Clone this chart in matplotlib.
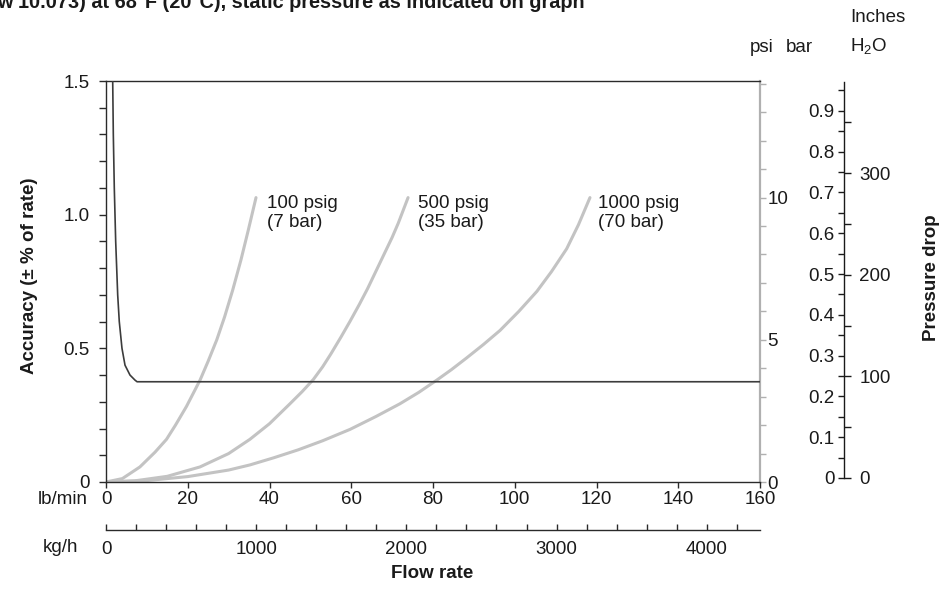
import matplotlib
matplotlib.use("Agg")
import matplotlib.pyplot as plt
from matplotlib.ticker import MultipleLocator, FixedLocator

plt.rcParams["font.family"] = ["Liberation Sans", "DejaVu Sans"]
plt.rcParams["mathtext.fontset"] = "custom"
plt.rcParams["mathtext.rm"] = "Liberation Sans"
plt.rcParams["mathtext.it"] = "Liberation Sans:italic"
plt.rcParams["mathtext.bf"] = "Liberation Sans:bold"

# ---- data ----
# accuracy curve (lb/min, % of rate)
acc_flow = [1.64, 1.79, 2.03, 2.37, 2.86, 3.25, 3.91, 4.65, 5.87, 7.1, 7.6, 160]
acc_value = [1.5, 1.3, 1.1, 0.9, 0.7, 0.6, 0.5, 0.437, 0.40, 0.381, 0.375, 0.375]

# pressure drop curves (lb/min, psi)
dp100_flow = [0, 4, 8.3, 12, 14.8, 17, 19.7, 23.0, 25, 27.1, 29, 31, 33, 34.8, 36.7]
dp100_psi = [0, 0.12, 0.53, 1.05, 1.5, 2.0, 2.66, 3.58, 4.25, 5.0, 5.8, 6.75, 7.8, 8.85, 10.0]
dp500_flow = [0, 7, 15, 23, 30, 35.2, 40, 45, 48, 50.7, 53, 55, 57.5, 59.7, 62, 64,
              66, 68, 70, 71.5, 73.9]
dp500_psi = [0, 0.04, 0.2, 0.53, 1.0, 1.5, 2.05, 2.75, 3.18, 3.6, 4.05, 4.5, 5.1, 5.65,
             6.25, 6.8, 7.4, 8.0, 8.6, 9.1, 10.0]
dp1000_flow = [0, 10, 20, 30, 35.2, 41, 47, 53, 59.7, 66, 71.9, 76.5, 80.9, 84.5, 88.2,
               92.3, 96.4, 101, 105.4, 109, 112.7, 115.6, 118.4]
dp1000_psi = [0, 0.05, 0.19, 0.42, 0.6, 0.85, 1.13, 1.45, 1.85, 2.3, 2.75, 3.15, 3.58,
              3.95, 4.36, 4.83, 5.33, 6.0, 6.7, 7.4, 8.2, 9.05, 10.0]
curve_labels = ["100 psig\n(7 bar)", "500 psig\n(35 bar)", "1000 psig\n(70 bar)"]
label_flow = [39.3, 76.4, 120.4]

flow_ticks = [0, 20, 40, 60, 80, 100, 120, 140, 160]
acc_ticks = [0, 0.5, 1.0, 1.5]
acc_tick_labels = ["0", "0.5", "1.0", "1.5"]
psi_ticks = [0, 5, 10]
bar_ticks = [0, 0.1, 0.2, 0.3, 0.4, 0.5, 0.6, 0.7, 0.8, 0.9]
bar_tick_labels = ["0", "0.1", "0.2", "0.3", "0.4", "0.5", "0.6", "0.7", "0.8", "0.9"]
inh2o_ticks = [0, 100, 200, 300]
kgh_ticks = [0, 1000, 2000, 3000, 4000]

KGH_PER_LBMIN = 27.2155
INH2O_PER_BAR = 401.463

# ---- layout helpers (pixel -> figure fraction) ----
W, H = 941, 591
def fx(px):
    return px / W
def fy(py):
    return 1 - py / H

FS = 13.5
TXT = "#1a1a1a"
fig = plt.figure(figsize=(W / 100, H / 100), dpi=100)

# main axes: accuracy vs flow (lb/min)
ax = fig.add_axes([fx(106), fy(482), fx(760) - fx(106), fy(81) - fy(482)])
ax.set_xlim(0, 160)
ax.set_ylim(0, 1.5)

# psi scale on the right spine (twin), holds the pressure drop curves
axpsi = ax.twinx()
axpsi.set_ylim(0, 14.1)
for fl, ps in [(dp100_flow, dp100_psi), (dp500_flow, dp500_psi), (dp1000_flow, dp1000_psi)]:
    axpsi.plot(fl, ps, color="#c3c3c3", lw=2.2, solid_capstyle="round",
               solid_joinstyle="round", zorder=2)
for sp in ["left", "top", "bottom"]:
    axpsi.spines[sp].set_visible(False)
axpsi.spines["right"].set_color("#b0b0b0")
axpsi.spines["right"].set_linewidth(1.6)
axpsi.yaxis.set_major_locator(FixedLocator(psi_ticks))
axpsi.yaxis.set_minor_locator(MultipleLocator(1))
axpsi.tick_params(axis="y", which="both", direction="out", length=4, width=1.0,
                  color="#b0b0b0", labelsize=FS, labelcolor=TXT, pad=1.5)

# accuracy curve above the pressure curves
ax.set_zorder(axpsi.get_zorder() + 1)
ax.patch.set_visible(False)
ax.plot(acc_flow, acc_value, color="#3c3c3c", lw=1.2, zorder=3)

ax.spines["right"].set_visible(False)
for sp in ["left", "top", "bottom"]:
    ax.spines[sp].set_color("#2a2a2a")
    ax.spines[sp].set_linewidth(1.0)
ax.set_xticks(flow_ticks)
ax.set_yticks(acc_ticks)
ax.set_yticklabels(acc_tick_labels)
ax.yaxis.set_minor_locator(MultipleLocator(0.1))
ax.tick_params(axis="y", which="both", direction="out", length=5, width=1.0,
               color="#2a2a2a", labelsize=FS, labelcolor=TXT, pad=7)
ax.tick_params(axis="x", which="both", direction="out", length=4, width=1.0,
               color="#2a2a2a", labelsize=FS, labelcolor=TXT, pad=2.5)

for txt, xf in zip(curve_labels, label_flow):
    ax.text(xf, 1.072, txt, fontsize=FS, color=TXT, ha="left", va="top",
            linespacing=1.15)

# bar / inches H2O scale on a free-standing line
axb = fig.add_axes([fx(844), fy(478), 1e-4, fy(82) - fy(478)])
axb.patch.set_visible(False)
axb.set_ylim(0, 0.9706)
axb.set_xticks([])
for sp in ["right", "top", "bottom"]:
    axb.spines[sp].set_visible(False)
axb.spines["left"].set_color("#1a1a1a")
axb.spines["left"].set_linewidth(1.0)
axb.set_yticks(bar_ticks)
axb.set_yticklabels(bar_tick_labels)
axb.yaxis.set_minor_locator(MultipleLocator(0.05))
axb.tick_params(axis="y", which="both", direction="out", length=4, width=1.0,
                color="#1a1a1a", labelsize=FS, labelcolor=TXT, pad=3)

axi = axb.twinx()
axi.set_ylim(0, 0.9706 * INH2O_PER_BAR)
axi.set_xticks([])
for sp in ["left", "top", "bottom", "right"]:
    axi.spines[sp].set_visible(False)
axi.set_yticks(inh2o_ticks)
axi.yaxis.set_minor_locator(MultipleLocator(50))
axi.tick_params(axis="y", which="both", direction="out", length=5, width=1.0,
                color="#1a1a1a", labelsize=FS, labelcolor=TXT, pad=6)

# kg/h scale below the lb/min axis
axk = fig.add_axes([fx(106), fy(529.5), fx(760) - fx(106), 1e-4])
axk.patch.set_visible(False)
axk.set_xlim(0, 160 * KGH_PER_LBMIN)
axk.set_yticks([])
for sp in ["left", "right", "top"]:
    axk.spines[sp].set_visible(False)
axk.spines["bottom"].set_color("#2a2a2a")
axk.spines["bottom"].set_linewidth(1.0)
axk.set_xticks(kgh_ticks)
axk.xaxis.set_minor_locator(MultipleLocator(200))
axk.tick_params(axis="x", which="both", direction="in", length=4, width=1.0,
                color="#2a2a2a", labelsize=FS, labelcolor=TXT, pad=8)

# text labels
fig.text(fx(88), fy(499.5), "lb/min", fontsize=FS, color=TXT, ha="right", va="center")
fig.text(fx(78), fy(547), "kg/h", fontsize=FS, color=TXT, ha="right", va="center")
fig.text(fx(432), fy(573), "Flow rate", fontsize=FS, fontweight="bold", color=TXT,
         ha="center", va="center")
fig.text(fx(30), fy(276), "Accuracy (± % of rate)", fontsize=FS, fontweight="bold",
         color=TXT, ha="center", va="center", rotation=90)
fig.text(fx(931), fy(278), "Pressure drop", fontsize=FS, fontweight="bold",
         color=TXT, ha="center", va="center", rotation=90)
fig.text(fx(762), fy(47), "psi", fontsize=FS, color=TXT, ha="center", va="center")
fig.text(fx(799), fy(47), "bar", fontsize=FS, color=TXT, ha="center", va="center")
fig.text(fx(850), fy(18), "Inches", fontsize=FS, color=TXT, ha="left", va="center")
fig.text(fx(850), fy(46), r"H$_\mathrm{2}$O", fontsize=FS, color=TXT, ha="left", va="center")
fig.text(fx(-3), fy(8), "w 10.073) at 68°F (20°C), static pressure as indicated on graph",
         fontsize=14.3, fontweight="bold", color=TXT, ha="left", va="baseline")

fig.savefig("out.png", dpi=100)
